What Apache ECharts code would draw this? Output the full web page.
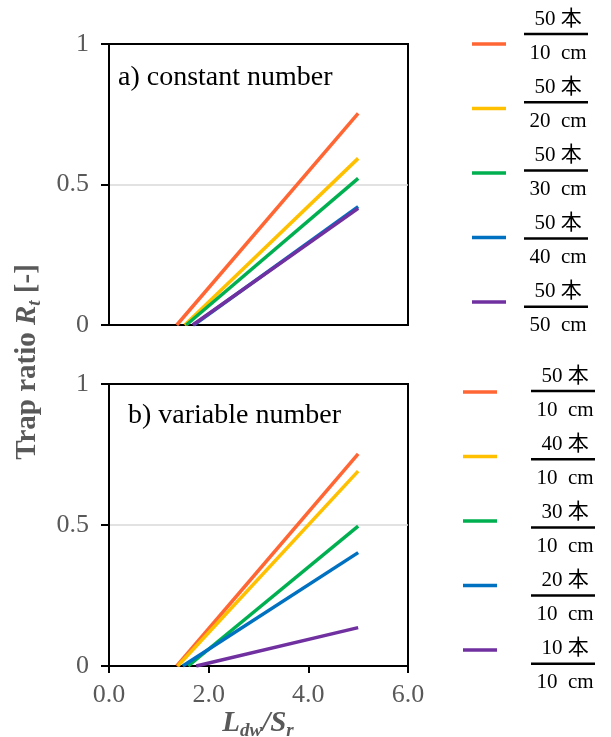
<!DOCTYPE html>
<html>
<head>
<meta charset="utf-8">
<script src="https://cdn.jsdelivr.net/npm/echarts@6/dist/echarts.min.js"></script>
<style>
  html, body { margin: 0; padding: 0; background: #fff; }
  #chart { width: 611px; height: 737px; }
</style>
</head>
<body>
<div id="chart"></div>
<script>
// x where each line leaves zero, and its value at x = 5
const endX = 5.0
const colors = ['#FF6633', '#FFC000', '#00B050', '#0070C0', '#7030A0']

// a) constant number
const topStart = [1.36, 1.52, 1.55, 1.70, 1.68]
const topEnd = [0.753, 0.593, 0.522, 0.421, 0.415]
const topNum = ['50 本', '50 本', '50 本', '50 本', '50 本']
const topDen = ['10  cm', '20  cm', '30  cm', '40  cm', '50  cm']

// b) variable number
const botStart = [1.36, 1.38, 1.59, 1.48, 1.75]
const botEnd = [0.752, 0.691, 0.496, 0.402, 0.136]
const botNum = ['50 本', '40 本', '30 本', '20 本', '10 本']
const botDen = ['10  cm', '10  cm', '10  cm', '10  cm', '10  cm']

const xTicks = [0, 2, 4, 6]
const yTicks = [0, 0.5, 1]

const serif = '"Liberation Serif", "Noto Sans CJK JP", serif'
const gray = '#595959'

const chart = echarts.init(document.getElementById('chart'), null, { renderer: 'canvas' })

function makeSeries(starts, ends, idx) {
  return starts.map((s, i) => ({
    type: 'line',
    xAxisIndex: idx,
    yAxisIndex: idx,
    showSymbol: false,
    silent: true,
    animation: false,
    lineStyle: { color: colors[i], width: 3.5 },
    data: [[s, 0], [endX, ends[i]]]
  }))
}

function yAxis(idx) {
  return {
    gridIndex: idx,
    type: 'value',
    min: 0, max: 1, interval: 0.5,
    axisLine: { show: true, lineStyle: { color: '#000', width: 2 } },
    axisTick: { show: true, inside: false, length: 8, lineStyle: { color: '#000', width: 2 } },
    axisLabel: {
      margin: 20, color: gray, fontFamily: serif, fontSize: 26,
      formatter: v => yTicks.includes(v) ? String(v) : ''
    },
    splitLine: {
      show: true, showMinLine: false, showMaxLine: false,
      lineStyle: { color: '#d9d9d9', width: 1.5 }
    }
  }
}

function xAxis(idx, showLabels) {
  return {
    gridIndex: idx,
    type: 'value',
    min: 0, max: 6, interval: 2,
    axisLine: { show: true, onZero: false, lineStyle: { color: '#000', width: 2 } },
    axisTick: { show: showLabels, length: 7, lineStyle: { color: '#000', width: 2 } },
    axisLabel: {
      show: showLabels, margin: 16, color: gray, fontFamily: serif, fontSize: 26,
      formatter: v => xTicks.includes(v) ? v.toFixed(1) : ''
    },
    splitLine: { show: false }
  }
}

function legendGraphics(nums, dens, sampleX, sampleY0, barX, barY0) {
  const g = []
  nums.forEach((n, i) => {
    const sy = sampleY0 + i * 64.5
    const by = barY0 + i * 68.2
    g.push({
      type: 'line', silent: true,
      shape: { x1: sampleX, y1: sy, x2: sampleX + 34, y2: sy },
      style: { stroke: colors[i], lineWidth: 3.5 }
    })
    g.push({
      type: 'line', silent: true,
      shape: { x1: barX - 32, y1: by, x2: barX + 32, y2: by },
      style: { stroke: '#000', lineWidth: 2.5 }
    })
    g.push({
      type: 'text', silent: true, x: barX + 2, y: by - 15,
      style: { text: n, font: '21px ' + serif, fill: '#000', align: 'center', verticalAlign: 'middle' }
    })
    g.push({
      type: 'text', silent: true, x: barX + 2, y: by + 19,
      style: { text: dens[i], font: '21px ' + serif, fill: '#000', align: 'center', verticalAlign: 'middle' }
    })
  })
  return g
}

chart.setOption({
  animation: false,
  grid: [
    { left: 109, top: 44, width: 299, height: 281, show: true, borderColor: '#000', borderWidth: 2 },
    { left: 109, top: 384, width: 299, height: 282, show: true, borderColor: '#000', borderWidth: 2 }
  ],
  xAxis: [xAxis(0, false), xAxis(1, true)],
  yAxis: [yAxis(0), yAxis(1)],
  series: [...makeSeries(topStart, topEnd, 0), ...makeSeries(botStart, botEnd, 1)],
  graphic: [
    {
      type: 'text', silent: true, x: 118, y: 78,
      style: { text: 'a) constant number', font: '28px ' + serif, fill: '#000', verticalAlign: 'middle' }
    },
    {
      type: 'text', silent: true, x: 128, y: 416,
      style: { text: 'b) variable number', font: '28px ' + serif, fill: '#000', verticalAlign: 'middle' }
    },
    {
      type: 'text', silent: true, x: 28, y: 362, rotation: Math.PI / 2,
      style: {
        text: '{b|Trap ratio }{i|R}{s|t}{b| [-]}',
        align: 'center', verticalAlign: 'middle', fill: gray,
        rich: {
          b: { fontFamily: serif, fontWeight: 'bold', fontSize: 29, fill: gray, lineHeight: 34 },
          i: { fontFamily: serif, fontWeight: 'bold', fontStyle: 'italic', fontSize: 29, fill: gray, lineHeight: 34 },
          s: { fontFamily: serif, fontWeight: 'bold', fontStyle: 'italic', fontSize: 19, fill: gray, lineHeight: 34, verticalAlign: 'bottom', padding: [10, 0, 0, 0] }
        }
      }
    },
    {
      type: 'text', silent: true, x: 258, y: 724,
      style: {
        text: '{i|L}{s|dw}{i|/S}{s|r}',
        align: 'center', verticalAlign: 'middle', fill: gray,
        rich: {
          i: { fontFamily: serif, fontWeight: 'bold', fontStyle: 'italic', fontSize: 29, fill: gray, lineHeight: 34 },
          s: { fontFamily: serif, fontWeight: 'bold', fontStyle: 'italic', fontSize: 19, fill: gray, lineHeight: 34, verticalAlign: 'bottom', padding: [12, 0, 0, 0] }
        }
      }
    },
    ...legendGraphics(topNum, topDen, 472, 44, 556, 34),
    ...legendGraphics(botNum, botDen, 463, 392, 563, 391)
  ]
})
</script>
</body>
</html>
